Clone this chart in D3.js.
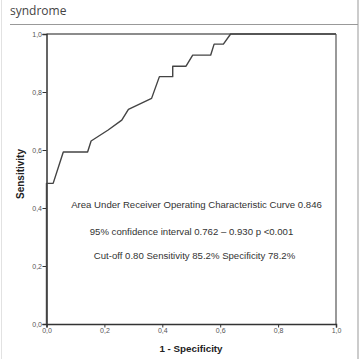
<!DOCTYPE html>
<html><head><meta charset="utf-8">
<script src="https://cdn.jsdelivr.net/npm/d3@7"></script>
<style>body{margin:0;background:#fff}svg{display:block}</style>
</head><body>
<script>
const titleLines = ["syndrome"];
const xLabel = "1 - Specificity";
const yLabel = "Sensitivity";
const tickValues = [0, 0.2, 0.4, 0.6, 0.8, 1.0];
const fpr = [0, 0, 0.023, 0.058, 0.142, 0.154, 0.213, 0.260, 0.283, 0.363, 0.390, 0.436, 0.436, 0.482, 0.505, 0.567, 0.579, 0.611, 0.636, 1.0];
const tpr = [0, 0.485, 0.485, 0.593, 0.593, 0.631, 0.669, 0.703, 0.740, 0.778, 0.853, 0.853, 0.889, 0.889, 0.927, 0.927, 0.965, 0.965, 1.0, 1.0];
const notes = [
  "Area Under Receiver Operating Characteristic Curve 0.846",
  "95% confidence interval 0.762 \u2013 0.930 p <0.001",
  "Cut-off 0.80 Sensitivity 85.2% Specificity 78.2%"
];

const W = 359, H = 359;
const svg = d3.select("body").append("svg").attr("width", W).attr("height", H);

// page frame
svg.append("line").attr("x1", 358).attr("x2", 358).attr("y1", 0).attr("y2", H).attr("stroke", "#999").attr("stroke-width", 1);
svg.append("line").attr("x1", 1.5).attr("x2", 1.5).attr("y1", 0).attr("y2", H).attr("stroke", "#e2e2e2").attr("stroke-width", 1);
svg.append("line").attr("x1", 10).attr("x2", 358).attr("y1", 24.5).attr("y2", 24.5).attr("stroke", "#999").attr("stroke-width", 1);

svg.selectAll("text.title").data(titleLines).join("text").attr("class", "title")
  .attr("x", 10).attr("y", 15)
  .attr("font-family", "Open Sans, sans-serif").attr("font-size", 12).attr("fill", "#444")
  .text(d => d);

const x = d3.scaleLinear().domain([0, 1]).range([46.5, 336]);
const y = d3.scaleLinear().domain([0, 1]).range([324, 34]);

const fmt = d => d3.format(".1f")(d).replace(".", ",");

// top and right frame of plot
svg.append("line").attr("x1", x(0)).attr("x2", x(1)).attr("y1", y(1)).attr("y2", y(1)).attr("stroke", "#666").attr("stroke-width", 1.5);
svg.append("line").attr("x1", x(1)).attr("x2", x(1)).attr("y1", y(1)).attr("y2", y(0)).attr("stroke", "#777").attr("stroke-width", 1.5);

const gx = svg.append("g").attr("transform", `translate(0,${y(0)})`)
  .call(d3.axisBottom(x).tickValues(tickValues).tickSize(3.5).tickPadding(0.5).tickFormat(fmt));
const gy = svg.append("g").attr("transform", `translate(${x(0)},0)`)
  .call(d3.axisLeft(y).tickValues(tickValues).tickSize(4).tickPadding(0.5).tickFormat(fmt));
[gx, gy].forEach(g => {
  g.select(".domain").attr("stroke", "#333").attr("stroke-width", 1.5);
  g.selectAll(".tick line").attr("stroke", "#333").attr("stroke-width", 1);
  g.selectAll(".tick text").attr("font-family", "Liberation Sans, Arial, sans-serif").attr("font-size", 7).attr("fill", "#555");
});

// ROC curve
const pts = fpr.map((f, i) => [f, tpr[i]]);
svg.append("path").datum(pts)
  .attr("d", d3.line().x(d => x(d[0])).y(d => y(d[1])))
  .attr("fill", "none").attr("stroke", "#444").attr("stroke-width", 1.4).attr("stroke-linejoin", "round");

// axis titles
svg.append("text").attr("x", 191).attr("y", 351.5).attr("text-anchor", "middle")
  .attr("font-family", "Liberation Sans, Arial, sans-serif").attr("font-weight", "bold").attr("font-size", 9.8).attr("fill", "#222")
  .text(xLabel);
svg.append("text").attr("transform", "translate(23.5,174) rotate(-90)").attr("text-anchor", "middle")
  .attr("font-family", "Liberation Sans, Arial, sans-serif").attr("font-weight", "bold").attr("font-size", 10).attr("fill", "#222")
  .text(yLabel);

// notes
const noteY = [208, 234.5, 259];
const noteX = [196.5, 191.5, 194.5];
svg.selectAll("text.note").data(notes).join("text").attr("class", "note")
  .attr("x", (d, i) => noteX[i]).attr("y", (d, i) => noteY[i]).attr("text-anchor", "middle")
  .attr("font-family", "Liberation Sans, Arial, sans-serif").attr("font-size", 9.6).attr("fill", "#333")
  .text(d => d);
</script>
</body></html>
